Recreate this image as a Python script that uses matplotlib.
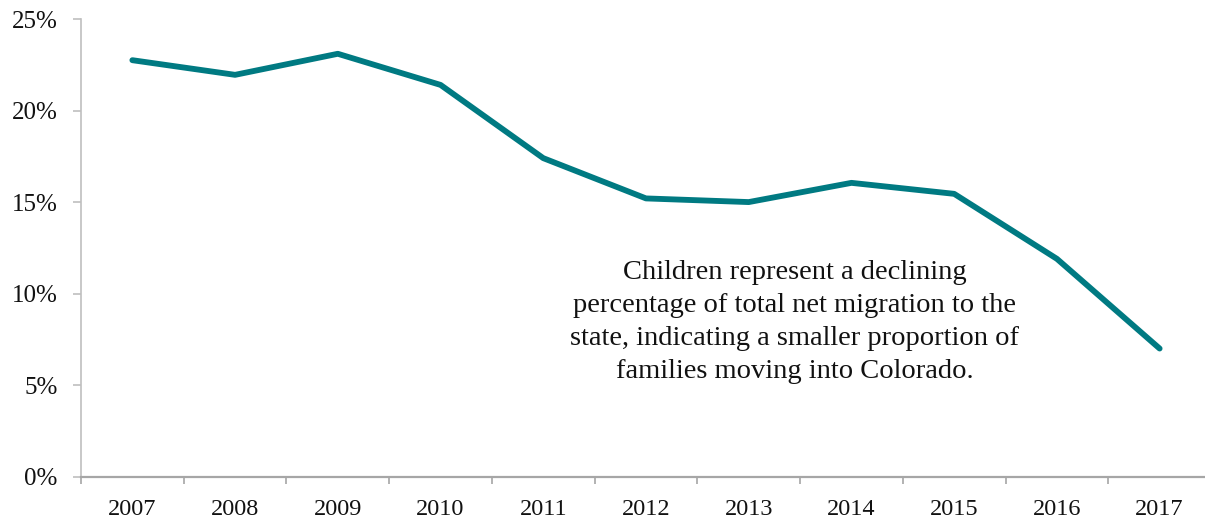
import numpy as np
import matplotlib.pyplot as plt
from matplotlib.ticker import FixedLocator, FuncFormatter

years = ['2007', '2008', '2009', '2010', '2011', '2012', '2013', '2014', '2015', '2016', '2017']
child_share = [22.75, 21.95, 23.1, 21.4, 17.4, 15.2, 15.0, 16.05, 15.45, 11.9, 7.0]
note = ("Children represent a declining\npercentage of total net migration to the\n"
        "state, indicating a smaller proportion of\nfamilies moving into Colorado.")

plt.rcParams['font.family'] = ['Liberation Serif', 'DejaVu Serif']

W, H = 1205, 520
fig = plt.figure(figsize=(W / 100, H / 100), dpi=100)
# axes run a little past the right edge, as in the original
ax = fig.add_axes([81 / W, (H - 476.7) / H, 1130 / W, (476.7 - 19) / H])

x = np.arange(len(years))
ax.plot(x, child_share, color='#007A82', lw=4.2, solid_joinstyle='round', solid_capstyle='round')

ax.set_xlim(-0.5, len(years) - 0.5)
ax.set_ylim(0, 25)
ax.set_yticks(np.arange(0, 26, 5))
ax.yaxis.set_major_formatter(FuncFormatter(lambda v, p: '%d%%' % v))
ax.set_xticks(x)
ax.set_xticklabels(years)
ax.xaxis.set_minor_locator(FixedLocator(np.arange(-0.5, len(years), 1)))

for s in ['top', 'right']:
    ax.spines[s].set_visible(False)
ax.spines['left'].set_color('#BFBFBF')
ax.spines['bottom'].set_color('#A6A6A6')
ax.spines['left'].set_linewidth(1.2)
ax.spines['bottom'].set_linewidth(1.6)

ax.tick_params(axis='y', length=6, width=1.2, color='#BFBFBF', pad=11, labelsize=18, labelcolor='#111111')
ax.tick_params(axis='x', which='major', length=0, pad=16, labelsize=17.5, labelcolor='#111111')
ax.tick_params(axis='x', which='minor', length=5, width=1.2, color='#A6A6A6')

ax.text(6.45, 8.45, note, ha='center', va='center', fontsize=20.5, linespacing=1.42, color='#111111')

fig.savefig('out.png', dpi=100)
